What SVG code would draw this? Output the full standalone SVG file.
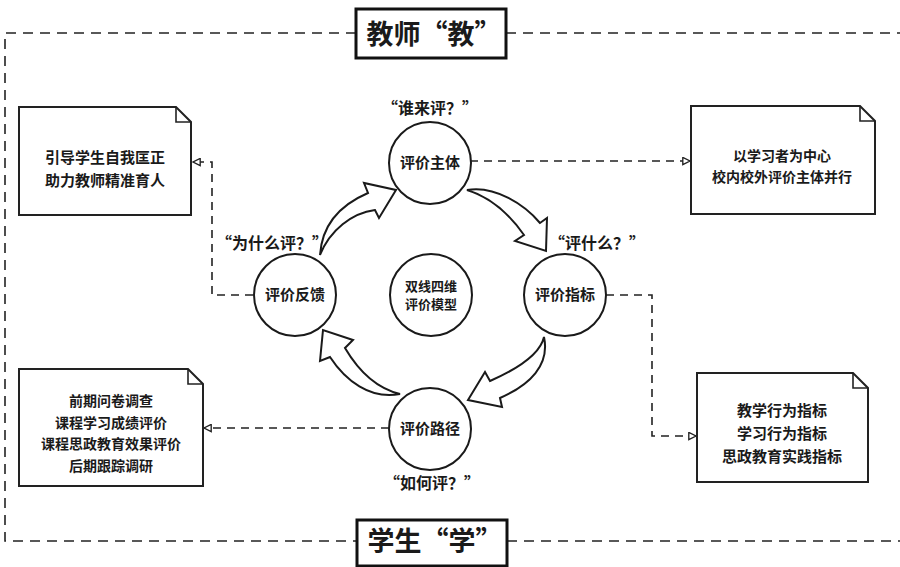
<svg xmlns="http://www.w3.org/2000/svg" width="900" height="567" viewBox="0 0 900 567">
<defs>
<style>
text{font-family:"Noto Sans CJK SC","Noto Sans",sans-serif;fill:#1a1a1a;text-anchor:middle;font-weight:bold}
.frame{fill:none;stroke:#222;stroke-width:1.6;stroke-dasharray:10,7}
.title{fill:#fff;stroke:#111;stroke-width:3}
.tt{font-size:27px}
.note{fill:#fff;stroke:#222;stroke-width:2}
.fold{fill:none;stroke:#222;stroke-width:1.6}
.nt{font-size:14.5px}
.circ{fill:#fff;stroke:#1a1a1a;stroke-width:2}
.ct{font-size:15px}
.cc{font-size:13px}
.q{font-size:16px}
.conn{fill:none;stroke:#222;stroke-width:1.6;stroke-dasharray:8,6}
.barrow{fill:#fff;stroke:#1a1a1a;stroke-width:2;stroke-linejoin:miter}
</style>
<marker id="tri" viewBox="0 0 10 10" refX="9" refY="5" markerWidth="9" markerHeight="9" markerUnits="userSpaceOnUse" orient="auto">
<path d="M1,1 L9,5 L1,9 Z" fill="#fff" stroke="#222" stroke-width="1.5"/>
</marker>
</defs>
<rect width="900" height="567" fill="#fff"/>

<g id="frame">
<path class="frame" d="M356,33 H5 V541 H357"/>
<path class="frame" d="M506,33 H900"/>
<path class="frame" d="M507,541 H900"/>
</g>

<g id="title-teacher">
<rect class="title" x="356" y="9" width="150" height="49"/>
<text class="tt" x="434" y="44">教师“教”</text>
</g>
<g id="title-student">
<rect class="title" x="357" y="520" width="150" height="46"/>
<text class="tt" x="435" y="551">学生“学”</text>
</g>

<g id="connectors">
<path class="conn" d="M470,161 H690" marker-end="url(#tri)"/>
<path class="conn" d="M606,295 H652 V436 H696" marker-end="url(#tri)"/>
<path class="conn" d="M389,428 H204" marker-end="url(#tri)"/>
<path class="conn" d="M253,295 H212 V162 H193" marker-end="url(#tri)"/>
</g>

<g id="cycle-arrows">
<path class="barrow" d="M320,255 C322,225 340,205 368,193 L364,183 L396,190 L379,218 L375,210 C352,213 330,230 320,255 Z"/>
<path class="barrow" d="M467,190 C495,185 525,205 540,223 L547,218 L546,251 L515,241 L524,235 C510,215 490,197 467,190 Z"/>
<path class="barrow" d="M544,337 C550,365 530,385 500,398 L502,407 L468,400 L485,372 L490,381 C515,370 540,355 544,337 Z"/>
<path class="barrow" d="M400,394 C370,400 345,380 330,357 L320,361 L323,330 L353,340 L345,348 C358,370 375,388 400,394 Z"/>
</g>

<g id="node-subject">
<circle class="circ" cx="430" cy="163" r="41"/>
<text class="ct" x="430" y="168">评价主体</text>
<text class="q" x="430" y="114">“谁来评？”</text>
</g>
<g id="node-index">
<circle class="circ" cx="565" cy="295" r="41"/>
<text class="ct" x="565" y="300">评价指标</text>
<text class="q" x="597" y="249">“评什么？”</text>
</g>
<g id="node-path">
<circle class="circ" cx="430" cy="429" r="41"/>
<text class="ct" x="430" y="434">评价路径</text>
<text class="q" x="432" y="489">“如何评？”</text>
</g>
<g id="node-feedback">
<circle class="circ" cx="295" cy="295" r="41"/>
<text class="ct" x="295" y="300">评价反馈</text>
<text class="q" x="272" y="249">“为什么评？”</text>
</g>
<g id="node-center">
<circle class="circ" cx="431" cy="295" r="41"/>
<text class="cc" x="431" y="291">双线四维</text>
<text class="cc" x="431" y="309">评价模型</text>
</g>

<g id="note-top-left">
<path class="note" d="M19,107 H176 L191,122 V215 H19 Z"/>
<path class="fold" d="M176,107 V122 H191"/>
<text class="nt" x="105" y="163" style="font-size:15px">引导学生自我匡正</text>
<text class="nt" x="105" y="186" style="font-size:15px">助力教师精准育人</text>
</g>
<g id="note-top-right">
<path class="note" d="M691,106 H860 L875,121 V214 H691 Z"/>
<path class="fold" d="M860,106 V121 H875"/>
<text class="nt" x="782" y="161" style="font-size:14px">以学习者为中心</text>
<text class="nt" x="782" y="182" style="font-size:14px">校内校外评价主体并行</text>
</g>
<g id="note-bottom-left">
<path class="note" d="M19,369 H188 L203,384 V486 H19 Z"/>
<path class="fold" d="M188,369 V384 H203"/>
<text class="nt" x="111" y="406" style="font-size:14px">前期问卷调查</text>
<text class="nt" x="111" y="428" style="font-size:14px">课程学习成绩评价</text>
<text class="nt" x="111" y="449" style="font-size:14px">课程思政教育效果评价</text>
<text class="nt" x="111" y="471" style="font-size:14px">后期跟踪调研</text>
</g>
<g id="note-bottom-right">
<path class="note" d="M697,373 H853 L868,388 V482 H697 Z"/>
<path class="fold" d="M853,373 V388 H868"/>
<text class="nt" x="782" y="416" style="font-size:15px">教学行为指标</text>
<text class="nt" x="782" y="439" style="font-size:15px">学习行为指标</text>
<text class="nt" x="782" y="462" style="font-size:15px">思政教育实践指标</text>
</g>
</svg>
